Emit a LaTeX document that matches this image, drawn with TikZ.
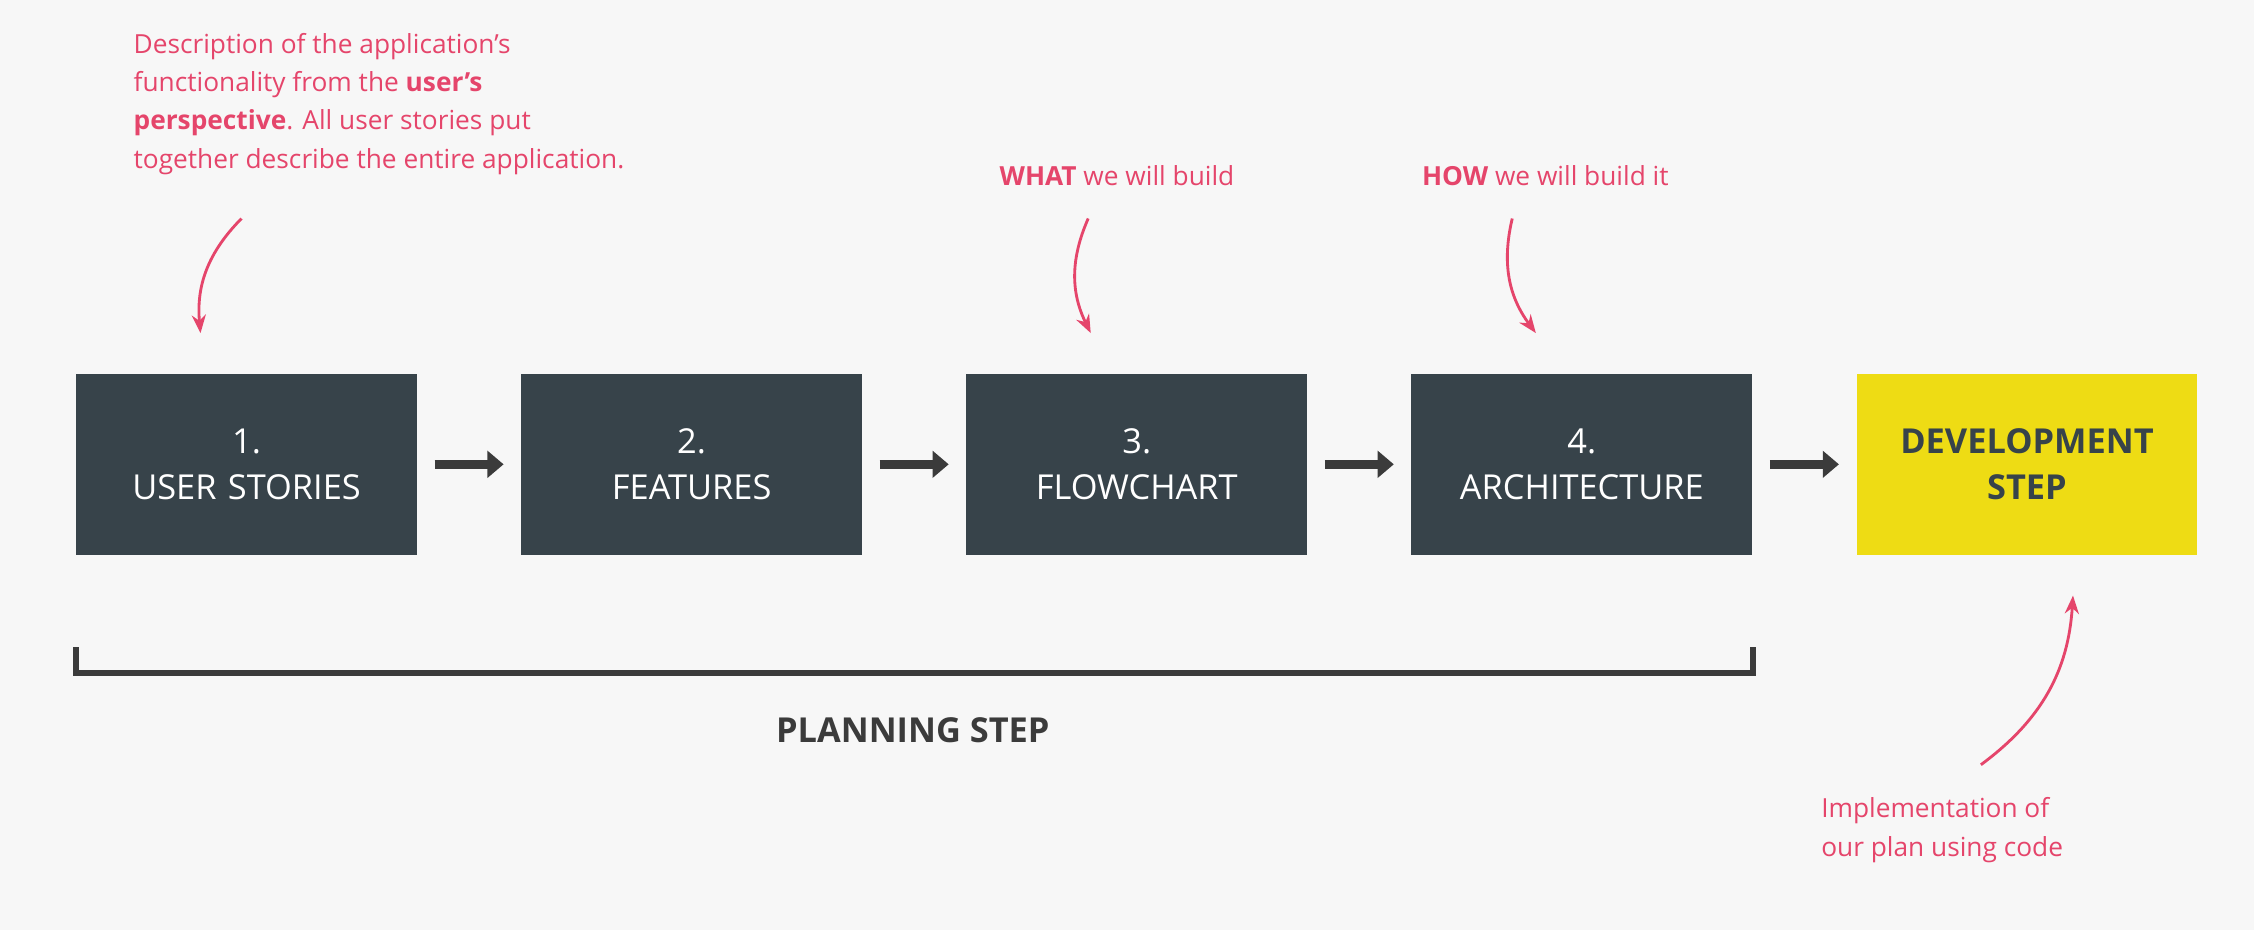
\documentclass[tikz,border=0pt]{standalone}
\usepackage{fontspec}
\setmainfont{Open Sans}
\usetikzlibrary{positioning,arrows.meta}
\definecolor{bgcol}{HTML}{F7F7F7}
\definecolor{stepcol}{HTML}{37434A}
\definecolor{devcol}{HTML}{EEDC14}
\definecolor{notecol}{HTML}{E5456B}
\definecolor{flowcol}{HTML}{3B3B3B}
\tikzset{
  step box/.style = {
    shape = rectangle,
    minimum width = 5.925cm,
    minimum height = 3.15cm,
    text width = 5.5cm,
    align = center,
    font = \fontsize{17}{23}\selectfont,
    node distance = 1.8cm,
    },
  plan box/.style = {step box, fill = stepcol, text = white},
  dev box/.style = {step box, fill = devcol, text = stepcol, font = \bfseries\fontsize{17}{23}\selectfont},
  note/.style = {text = notecol, font = \fontsize{13}{19}\selectfont, align = left},
  flow/.style = {-{Triangle[length=8pt,width=13pt]}, line width=4.5pt, flowcol, shorten >=0.3cm, shorten <=0.3cm},
  hint/.style = {-{Stealth[length=9pt,width=7pt]}, line width=1.4pt, notecol},
}
\begin{document}
\begin{tikzpicture}[x=0.025cm,y=-0.025cm]
    \fill[bgcol] (0,0) rectangle (1568,647);

    % steps
    \node [plan box] (stories) at (171.5,323) {1.\\USER STORIES};
    \node [plan box, right=of stories] (features) {2.\\FEATURES};
    \node [plan box, right=of features] (flowchart) {3.\\FLOWCHART};
    \node [plan box, right=of flowchart] (arch) {4.\\ARCHITECTURE};
    \node [dev box, right=of arch] (dev) {DEVELOPMENT\\STEP};

    \foreach \a/\b in {stories/features, features/flowchart, flowchart/arch, arch/dev}
        \draw[flow] (\a.east) -- (\b.west);

    % planning bracket
    \coordinate (bl) at ([yshift=-2.05cm]stories.south west);
    \coordinate (br) at ([yshift=-2.05cm]arch.south east);
    \draw[flowcol, line width=3pt] ([yshift=0.45cm]bl) -- (bl) -- (br) -- ([yshift=0.45cm]br);
    \node [text=flowcol, font=\bfseries\fontsize{17}{20}\selectfont] (plan) at (635,508) {PLANNING STEP};

    % notes
    \node [note, anchor=north west] (storynote) at (88,18)
        {Description of the application’s\\functionality from the \textbf{user’s}\\
         \textbf{perspective}. All user stories put\\together describe the entire application.};
    \node [note] (whatnote) at (777,122) {\textbf{WHAT} we will build};
    \node [note] (hownote) at (1075,122) {\textbf{HOW} we will build it};
    \node [note, anchor=north west] (devnote) at (1262,550) {Implementation of\\our plan using code};

    \coordinate (s1) at (168,152);
    \coordinate (s2) at (757,152);
    \coordinate (s3) at (1052,152);
    \coordinate (s4) at (1378,532);
    \draw[hint] (s1) to[bend right=25] ([xshift=-0.8cm,yshift=0.7cm]stories.north);
    \draw[hint] (s2) to[bend right=25] ([xshift=-0.8cm,yshift=0.7cm]flowchart.north);
    \draw[hint] (s3) to[bend right=25] ([xshift=-0.8cm,yshift=0.7cm]arch.north);
    \draw[hint] (s4) to[bend right=25] ([xshift=0.8cm,yshift=-0.7cm]dev.south);
\end{tikzpicture}
\end{document}
